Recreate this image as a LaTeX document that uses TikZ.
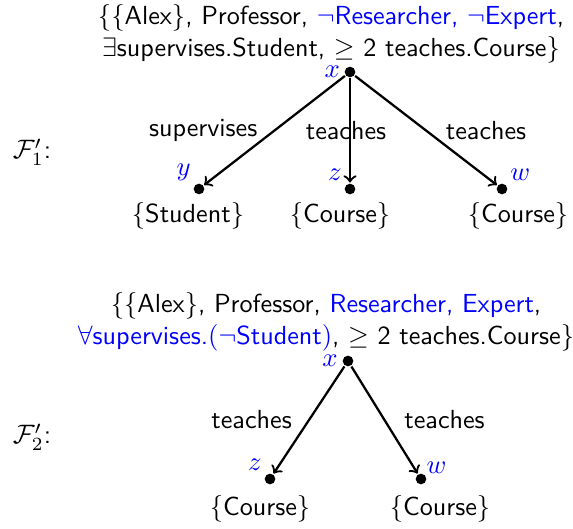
\documentclass[tikz,border=0pt]{standalone}
\usepackage{amssymb}
\usetikzlibrary{positioning}
\tikzset{
  dot/.style={circle,fill,inner sep=0pt,minimum size=4pt},
  var/.style={text=blue,inner sep=1pt},
}
\begin{document}
\begin{tikzpicture}[x=0.375pt,y=-0.375pt,font=\fontsize{9.8}{11.8}\selectfont\sffamily,>=to,line width=0.85pt]
\useasboundingbox (0,0) rectangle (573,529);
% F_1'
\node[align=center] (s1) at (331,34) {$\{\{$Alex$\}$, Professor, \textcolor{blue}{$\neg$Researcher, $\neg$Expert},\\
  $\exists$supervises.Student, $\geq$ 2 teaches.Course$\}$};
\node (f1) at (32,152) {$\mathcal{F}'_1$:};
\node[dot,label={[var]left:$x$}] (x1) at (350,72) {};
\node[dot,label={[var]above left:$y$}] (y1) at (199,189) {};
\node[dot,label={[var]above left:$z$}] (z1) at (350,189) {};
\node[dot,label={[var]above right:$w$}] (w1) at (502,189) {};
\node (c1) at (188,216) {$\{$Student$\}$};
\node (c2) at (340,216) {$\{$Course$\}$};
\node (c3) at (518,216) {$\{$Course$\}$};
\draw[->] (x1) -- node[left=2.7pt] {supervises} (y1);
\draw[->] (x1) -- node[xshift=-1.5pt] {teaches} (z1);
\draw[->] (x1) -- node[right=3.7pt] {teaches} (w1);
% F_2'
\node[align=center] (s2) at (326,322) {$\{\{$Alex$\}$, Professor, \textcolor{blue}{Researcher, Expert},\\
  \textcolor{blue}{$\forall$supervises.$($$\neg$Student$)$}, $\geq$ 2 teaches.Course$\}$};
\node (f2) at (32,437) {$\mathcal{F}'_2$:};
\node[dot,label={[var]left:$x$}] (x2) at (348,361) {};
\node[dot,label={[var]above left:$z$}] (z2) at (270,479) {};
\node[dot,label={[var,inner sep=0pt]above right:$w$}] (w2) at (421,479) {};
\node (c4) at (260,509) {$\{$Course$\}$};
\node (c5) at (440,509) {$\{$Course$\}$};
\draw[->] (x2) -- node[left=2.7pt] {teaches} (z2);
\draw[->] (x2) -- node[right=3.7pt] {teaches} (w2);
\end{tikzpicture}
\end{document}
